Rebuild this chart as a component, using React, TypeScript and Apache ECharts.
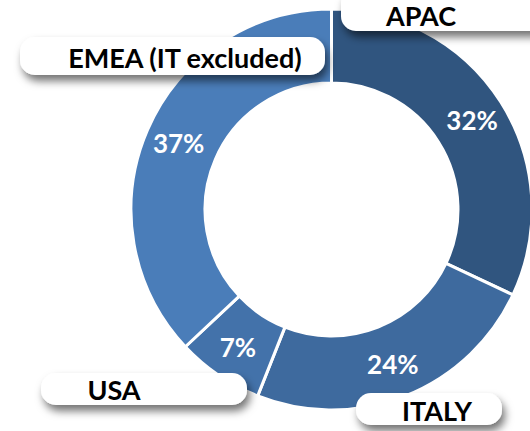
import React, { useEffect, useRef } from "react";
import * as echarts from "echarts";

const categories = ["APAC", "ITALY", "USA", "EMEA (IT excluded)"];
const values = [32, 24, 7, 37];
const colors = ["#30557f", "#3e6a9e", "#4372aa", "#4a7db9"];

// label box layout: [x, y, width, height, textCenterX, textCenterY]
const boxes: number[][] = [
  [341, -12, 220, 43, 421, 15],
  [356, 393, 146, 32, 437, 410],
  [41, 373, 206, 32, 114, 389],
  [20, 37, 305, 38, 185, 57],
];

export default function App() {
  const ref = useRef<HTMLDivElement>(null);
  useEffect(() => {
    document.body.style.margin = "0";
    const chart = echarts.init(ref.current!, undefined, { renderer: "svg" });
    const graphics: any[] = [];
    categories.forEach((name, i) => {
      const b = boxes[i];
      graphics.push({
        type: "rect",
        z: 100,
        shape: { x: b[0], y: b[1], width: b[2], height: b[3], r: 15 },
        style: {
          fill: "#ffffff",
          shadowBlur: 8,
          shadowColor: "rgba(0,0,0,0.55)",
          shadowOffsetX: 3,
          shadowOffsetY: 6,
        },
      });
      graphics.push({
        type: "text",
        z: 101,
        x: b[4],
        y: b[5],
        style: {
          text: name,
          fill: "#000000",
          font: "bold 27px Lato",
          align: "center",
          verticalAlign: "middle",
        },
      });
    });
    chart.setOption({
      animation: false,
      backgroundColor: "#ffffff",
      series: [
        {
          type: "pie",
          z: 1,
          center: [331.5, 209.5],
          radius: [126.5, 200.5],
          startAngle: 90,
          clockwise: true,
          avoidLabelOverlap: false,
          itemStyle: { borderColor: "#ffffff", borderWidth: 3 },
          label: {
            show: true,
            position: "inside",
            formatter: (p: any) => `${p.value}%`,
            color: "#ffffff",
            fontFamily: "Lato",
            fontWeight: "bold",
            fontSize: 26,
          },
          labelLine: { show: false },
          emphasis: { disabled: true },
          data: categories.map((name, i) => ({
            name,
            value: values[i],
            itemStyle: { color: colors[i] },
          })),
        },
      ],
      graphic: { elements: graphics },
    });
    return () => chart.dispose();
  }, []);
  return <div ref={ref} style={{ width: 530, height: 431 }} />;
}
